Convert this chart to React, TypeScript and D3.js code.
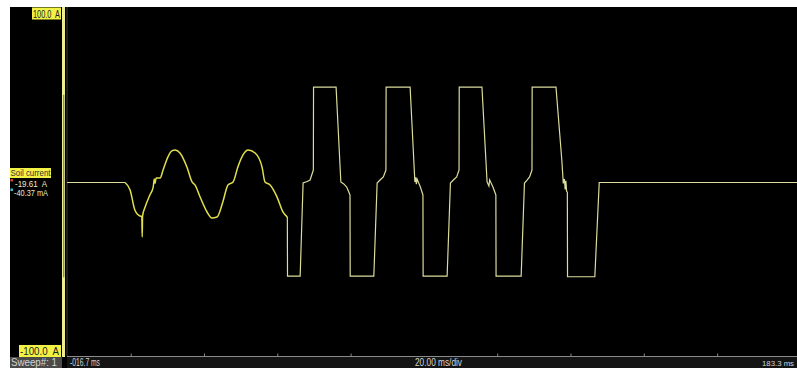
import * as d3 from 'd3'

type Pt = [number, number] // [time ms, current A]

// flat line before the burst
const preTrigger: Pt[] = [[-17.5, 0], [-1.7, 0]]

// the 50 Hz sine part
const sineBurst: Pt[] = [
  [-0.3, -4.3], [1.0, -15.7], [2.4, -19.1], [2.9, -19.3], [3.0, -31.0], [3.1, -19.0],
  [3.8, -14.0], [5.1, -7.1], [6.0, -2.6], [6.3, 2.0], [6.5, -0.5], [6.8, 2.5], [7.9, 2.6],
  [8.7, 7.1], [10.0, 14.5], [11.1, 18.0], [12.0, 18.5], [13.3, 16.8], [15.2, 8.8],
  [16.6, 0.3], [17.4, -1.4], [18.8, -8.3], [20.7, -16.8], [22.0, -20.2], [23.4, -19.7],
  [25.0, -11.1], [26.4, -1.4], [27.8, 0.3], [29.1, 8.8], [30.5, 15.7], [31.9, 18.5],
  [33.8, 16.8], [35.7, 8.8], [36.5, 0.3], [37.9, -1.4], [39.8, -8.3], [41.4, -16.8],
  [42.6, -19.7],
]

// square-ish pulses
const pulse1: Pt[] = [
  [42.65, -53.3], [46.1, -53.3], [46.9, -0.3], [48.0, 0.6], [48.8, 1.4], [49.7, 7.1],
  [49.75, 54.4], [55.9, 54.4], [57.2, 0.3], [58.0, -0.8], [58.8, -2.6], [59.7, -7.1],
  [59.75, -53.3], [66.2, -53.3], [67.1, -0.3], [67.9, 1.4], [68.8, 3.2], [69.5, 7.1],
]
const pulse2: Pt[] = [
  [69.55, 54.4], [76.1, 54.4], [77.4, 0.3], [77.6, 3.0], [77.8, -1.0], [78.0, 2.0],
  [78.9, -2.6], [79.6, -7.1], [79.65, -53.3], [86.2, -53.3], [87.1, -0.3], [87.9, 1.4],
  [88.8, 3.2], [89.45, 7.1],
]
const pulse3: Pt[] = [
  [89.5, 54.4], [95.7, 54.4], [97.1, 0.3], [97.6, -2.0], [97.8, 1.5], [98.7, -2.6],
  [99.5, -7.1], [99.55, -53.3], [106.4, -53.3], [107.3, -0.3], [108.0, 1.4], [108.7, 3.2],
  [109.35, 7.1],
]
const pulse4: Pt[] = [
  [109.4, 54.4], [115.9, 54.4], [117.5, 12.5], [117.9, -0.5], [118.2, 2.0], [118.4, -4.0],
  [118.6, 1.0], [118.8, -5.0], [119.0, -5.5], [119.05, -53.7], [126.5, -53.7], [127.7, 0],
]
const tail: Pt[] = [[185, 0]]

const tickTimes = [0, 20, 40, 60, 100, 120, 140, 160]
const scaleLabels = ['100.0  A', '-100.0  A']
const readouts = ['-19.61  A', '-40.37 mA']
const timeLabels = ['-016.7 ms', '20.00 ms/div', '183.3 ms']

const W = 797
const H = 368
const FONT = '"Liberation Sans", Arial, sans-serif'

export default function App() {
  const x = d3.scaleLinear().domain([-16.7, 183.3]).range([70, 803])
  const y = d3.scaleLinear().domain([-100, 100]).range([358, 7])

  const line = d3
    .line<Pt>()
    .x((d) => x(d[0]))
    .y((d) => y(d[1]))
  const smooth = d3
    .line<Pt>()
    .x((d) => x(d[0]))
    .y((d) => y(d[1]))
    .curve(d3.curveMonotoneX)

  const flatPart = preTrigger
  const sinePart = [preTrigger[1], ...sineBurst]
  const pulsePart = [sineBurst[sineBurst.length - 1], ...pulse1, ...pulse2, ...pulse3, ...pulse4, ...tail]

  const plotLeft = 67
  const stripTop = 356.5

  const txt = (
    s: string,
    tx: number,
    ty: number,
    len: number,
    fill: string,
    size = 10
  ) => (
    <text
      x={tx}
      y={ty}
      fontFamily={FONT}
      fontSize={size}
      fill={fill}
      textLength={len}
      lengthAdjust="spacingAndGlyphs"
      xmlSpace="preserve"
    >
      {s}
    </text>
  )

  return (
    <svg width={W} height={H} style={{ position: 'absolute', left: 0, top: 0, display: 'block' }}>
      <rect x={0} y={0} width={W} height={H} fill="#fff" />
      <rect x={10} y={7} width={W - 10} height={H - 7} fill="#000" />
      <defs>
        <clipPath id="plot">
          <rect x={plotLeft} y={7} width={W - plotLeft} height={stripTop - 7} />
        </clipPath>
      </defs>

      {/* plot border */}
      <line x1={plotLeft} x2={plotLeft} y1={7} y2={stripTop} stroke="#3a3a3a" />

      <g clipPath="url(#plot)">
        <path d={line(flatPart) ?? ''} fill="none" stroke="#dcdc9c" strokeWidth={1.2} />
        <path d={line(pulsePart) ?? ''} fill="none" stroke="#dcdc9c" strokeWidth={1.2} />
        <path d={smooth(sinePart) ?? ''} fill="none" stroke="#e0e04c" strokeWidth={1.5} />
      </g>

      {/* channel bar */}
      <rect x={62} y={7} width={3} height={350} fill="#eeee90" />
      <rect x={63} y={y(50)} width={1.4} height={y(-54) - y(50)} fill="#8a8a70" />

      {/* scale labels */}
      <rect x={32} y={7.5} width={29} height={12} fill="#f2f244" />
      {txt(scaleLabels[0], 33, 17.5, 27, '#222', 10.5)}
      <rect x={19} y={345} width={42} height={12} fill="#f2f244" />
      {txt(scaleLabels[1], 20, 355, 39, '#222', 10.5)}

      {/* channel name and readouts */}
      <rect x={10} y={168} width={41} height={10} fill="#f2f244" />
      {txt('Soil current', 10.5, 176, 40, '#333', 9.5)}
      <rect x={10.5} y={179} width={2.5} height={2.5} fill="#d04030" />
      {txt(readouts[0], 15, 187, 32, '#ecebc8', 9)}
      <rect x={10.5} y={188.5} width={2.5} height={2.5} fill="#40b8d8" />
      {txt(readouts[1], 14, 196, 34, '#ecebc8', 9)}

      {/* time strip */}
      <rect x={plotLeft} y={stripTop} width={W - plotLeft} height={H - stripTop} fill="#141414" />
      <line x1={plotLeft} x2={W} y1={stripTop} y2={stripTop} stroke="#8a8a8a" />
      {tickTimes.map((t) => (
        <line key={t} x1={x(t)} x2={x(t)} y1={stripTop - 3} y2={stripTop} stroke="#8a8a8a" />
      ))}
      <rect x={10} y={357} width={52} height={11} fill="#4a4a4a" />
      {txt('Sweep#: 1', 11, 366, 46, '#d4d4d4')}
      {txt(timeLabels[0], 70, 366, 30, '#d4d4d4')}
      {txt(timeLabels[1], 415, 366, 47, '#d4d4d4')}
      {txt(timeLabels[2], 762, 365.5, 32, '#d4d4d4', 8)}
    </svg>
  )
}
